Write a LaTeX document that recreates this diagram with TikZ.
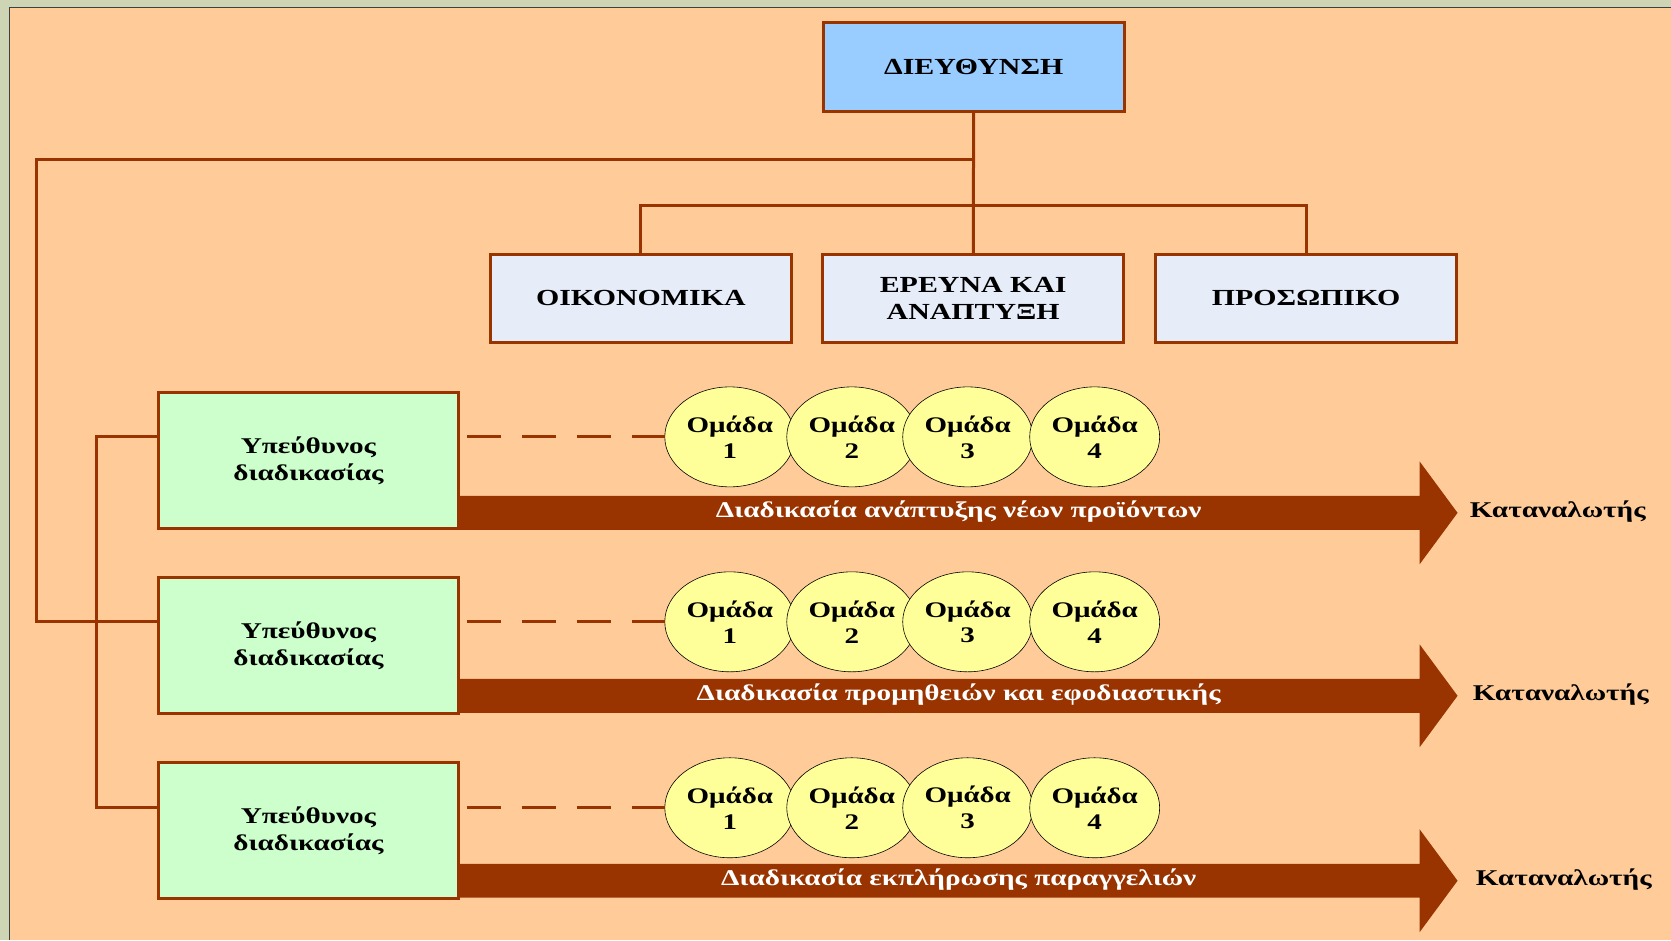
\documentclass[tikz,border=0pt]{standalone}
\usepackage{fontspec}
\setmainfont{Liberation Serif}[FakeStretch=1.3]
\usepackage{xcolor}
\usetikzlibrary{positioning, shapes.geometric}
\definecolor{paper}{HTML}{FFCC99}
\definecolor{rust}{HTML}{993300}
\definecolor{headblue}{HTML}{99CCFF}
\definecolor{deptblue}{HTML}{E6ECF8}
\definecolor{mgrgreen}{HTML}{CCFFCC}
\definecolor{teamyellow}{HTML}{FFFF99}
\definecolor{framegreen}{HTML}{CDD5B5}
\tikzset{
link/.style={draw=rust, line width=3pt}, % solid org chart lines
dashline/.style={draw=rust, line width=3pt, dash pattern=on 34pt off 21pt}, % dashed link to the teams
box/.style={draw=rust, line width=3pt, align=center, inner sep=0pt,
  font=\bfseries\fontsize{23}{27}\selectfont}, % every rectangle of the chart
dept/.style={box, fill=deptblue, minimum width=301pt, minimum height=88pt},
mgr/.style={box, fill=mgrgreen, minimum width=300pt, minimum height=136pt,
  font=\bfseries\fontsize{22.5}{27}\selectfont},
team/.style={ellipse, draw=black, line width=0.6pt, fill=teamyellow, inner sep=0pt,
  minimum width=130pt, minimum height=100pt, align=center,
  font=\bfseries\fontsize{22.3}{26}\selectfont}, % the small groups
flowtext/.style={text=white, font=\bfseries\fontsize{22.5}{24}\selectfont},
cons/.style={font=\bfseries\fontsize{22.5}{24}\selectfont, inner sep=0pt},
}
\begin{document}
\begin{tikzpicture}[x=1pt, y=-1pt]
    % page and its frame
    \fill[paper] (0,0) rectangle (1671,940);
    \fill[framegreen] (0,0) rectangle (1671,7);
    \fill[framegreen] (0,0) rectangle (9,940);
    \draw[black!75, line width=1pt] (1671,7.5) -- (9.5,7.5) -- (9.5,940);
    \useasboundingbox (0,0) rectangle (1671,940);

    \node[box, fill=headblue, minimum width=301pt, minimum height=89pt] (dir) at (974,67) {ΔΙΕΥΘΥΝΣΗ};
    \node[dept] (eco) at (641,298.5) {ΟΙΚΟΝΟΜΙΚΑ};
    \node[dept] (rd) at (973.5,298.5) {ΕΡΕΥΝΑ ΚΑΙ\\ΑΝΑΠΤΥΞΗ};
    \node[dept] (staff) at (1306.5,298.5) {ΠΡΟΣΩΠΙΚΟ};

    \coordinate (bar) at (973.5,206);
    \coordinate (corner) at (37,160);
    \draw[link] (dir) -- (rd);
    \draw[link] (eco.north) |- (bar) -| (staff.north);

    \node[mgr] (m1) at (308.5,460.5) {Υπεύθυνος\\διαδικασίας};
    \node[mgr] (m2) at (308.5,645.5) {Υπεύθυνος\\διαδικασίας};
    \node[mgr] (m3) at (308.5,831) {Υπεύθυνος\\διαδικασίας};

    % process arrows
    \foreach \r/\y/\dx/\txt in {1/513/12/{Διαδικασία ανάπτυξης νέων προϊόντων},
                                2/696/15/{Διαδικασία προμηθειών και εφοδιαστικής},
                                3/881/18/{Διαδικασία εκπλήρωσης παραγγελιών}} {
        \fill[rust] (m\r.east |- 0,\y-17) -- (1420,\y-17) -- (1420,\y-51.5) -- (1458,\y)
            -- (1420,\y+51.5) -- (1420,\y+17) -- (m\r.east |- 0,\y+17) -- cycle;
        \node[flowtext] (p\r) at (959,\y-1) {\txt};
        \coordinate (tip\r) at (1458,\y-1);
        \node[cons, right=\dx pt of tip\r] (c\r) {Καταναλωτής};
    }

    % the groups
    \foreach \r/\y in {1/437, 2/622, 3/808}
        \foreach \x [count=\i] in {730,852,968,1095}
            \node[team] (t\r\i) at (\x,\y) {Ομάδα\\\i};
    \foreach \r in {1,2,3}
        \draw[dashline] ([xshift=7pt]m\r.east |- t\r1.west) -- (t\r1.west);

    \draw[link] (dir.south |- corner) -- (corner) |- (m2.west |- t21);
    \draw[link] (m1.west |- t11) -- ++(-60,0) |- (m3.west |- t31);
\end{tikzpicture}
\end{document}
